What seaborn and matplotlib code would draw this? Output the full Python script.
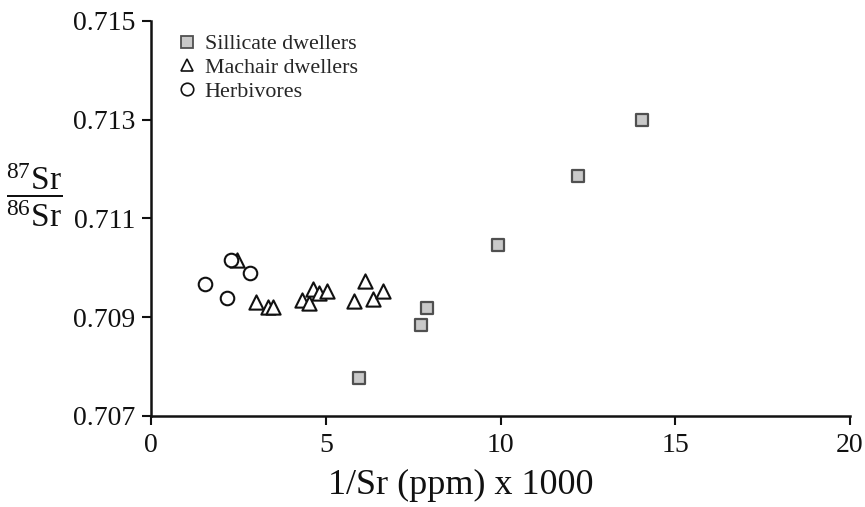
import matplotlib
matplotlib.use("Agg")
import matplotlib.pyplot as plt
import seaborn as sns
import pandas as pd
from matplotlib.lines import Line2D

# ---- data ----
sil_x = [5.95, 7.73, 7.90, 9.93, 12.22, 14.04]
sil_y = [0.70776, 0.70885, 0.70918, 0.71046, 0.71185, 0.71299]

mach_x = [2.45, 3.00, 3.36, 3.50, 4.31, 4.53, 4.64, 4.82, 5.03, 5.81, 6.12, 6.36, 6.63]
mach_y = [0.71015, 0.70931, 0.70921, 0.70921, 0.70934, 0.70929, 0.70957, 0.70949,
          0.70953, 0.70932, 0.70973, 0.70937, 0.70953]

herb_x = [2.29, 2.83, 1.53, 2.18]
herb_y = [0.71015, 0.70990, 0.70968, 0.70938]

x_ticks = [0, 5, 10, 15, 20]
y_ticks = [0.707, 0.709, 0.711, 0.713, 0.715]
labels = ["Sillicate dwellers", "Machair dwellers", "Herbivores"]

sns.set_style("ticks")
plt.rcParams["font.family"] = ["Liberation Serif", "DejaVu Serif"]
plt.rcParams["mathtext.fontset"] = "custom"
plt.rcParams["mathtext.rm"] = "Liberation Serif"
plt.rcParams["mathtext.it"] = "Liberation Serif:italic"
plt.rcParams["mathtext.bf"] = "Liberation Serif:bold"

fig = plt.figure(figsize=(8.65, 5.07), dpi=100)
ax = fig.add_axes([0.1746, 0.1795, 0.9827 - 0.1746, 0.9592 - 0.1795])

df_s = pd.DataFrame({"x": sil_x, "y": sil_y})
df_m = pd.DataFrame({"x": mach_x, "y": mach_y})
df_h = pd.DataFrame({"x": herb_x, "y": herb_y})

sns.scatterplot(data=df_s, x="x", y="y", marker="s", s=70, color="#c9c9c9",
                edgecolor="#505050", linewidth=1.6, ax=ax, zorder=3)
sns.scatterplot(data=df_m, x="x", y="y", marker="^", s=105, facecolor="white",
                edgecolor="#111111", linewidth=1.5, ax=ax, zorder=3)
sns.scatterplot(data=df_h, x="x", y="y", marker="o", s=95, facecolor="white",
                edgecolor="#111111", linewidth=1.5, ax=ax, zorder=3)

ax.set_xlim(0, 20)
ax.set_ylim(0.707, 0.715)
ax.set_xticks(x_ticks)
ax.set_xticklabels([str(t) for t in x_ticks])
ax.set_yticks(y_ticks)
ax.set_yticklabels([f"{t:.3f}" for t in y_ticks])
ax.tick_params(axis="both", labelsize=20, length=6.3, width=1.5, color="#111111",
               labelcolor="#111111", direction="out")
ax.tick_params(axis="y", pad=5)
ax.tick_params(axis="x", pad=6)

for side in ["top", "right"]:
    ax.spines[side].set_visible(False)
for side in ["left", "bottom"]:
    ax.spines[side].set_linewidth(1.8)
    ax.spines[side].set_color("#111111")

ax.set_xlabel("1/Sr (ppm) x 1000", fontsize=26, color="#111111")
ax.xaxis.set_label_coords(0.443, -0.135)
ax.xaxis.label.set_verticalalignment("top")
ax.set_ylabel(r"$\dfrac{^{87}\mathrm{Sr}}{^{86}\mathrm{Sr}}$", fontsize=24,
              rotation=0, color="#111111")
ax.yaxis.set_label_coords(-0.168, 0.474)

handles = [
    Line2D([], [], marker="s", linestyle="none", markersize=8,
           markerfacecolor="#c9c9c9", markeredgecolor="#505050", markeredgewidth=1.3),
    Line2D([], [], marker="^", linestyle="none", markersize=9,
           markerfacecolor="white", markeredgecolor="#111111", markeredgewidth=1.2),
    Line2D([], [], marker="o", linestyle="none", markersize=9,
           markerfacecolor="white", markeredgecolor="#111111", markeredgewidth=1.2),
]
ax.legend(handles, labels, loc="upper left", bbox_to_anchor=(0.017, 1.005),
          frameon=False, fontsize=15.8, handlelength=0.8, handletextpad=0.4,
          labelspacing=0.15, borderaxespad=0.3)

fig.savefig("out.png", dpi=100)
